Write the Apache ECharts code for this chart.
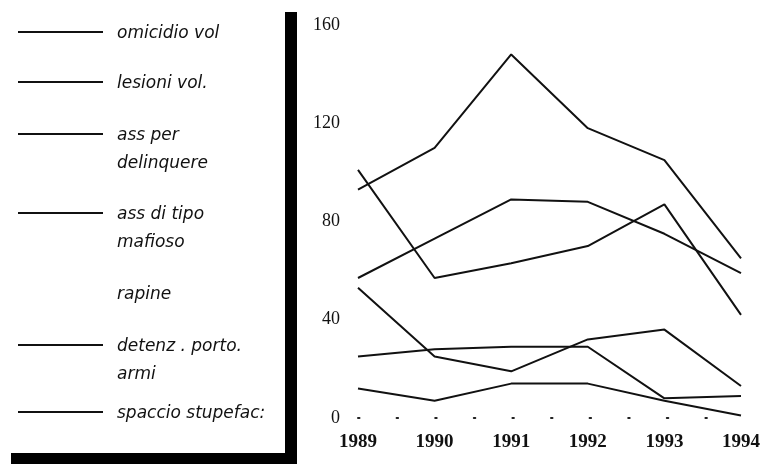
<!DOCTYPE html>
<html>
<head>
<meta charset="utf-8">
<script src="https://cdn.jsdelivr.net/npm/echarts@6/dist/echarts.min.js"></script>
<style>
  html, body { margin: 0; padding: 0; background: #fff; }
  #chart { width: 763px; height: 464px; }
</style>
</head>
<body>
<div id="chart"></div>
<script>
// Years on the horizontal axis
var years = ['1989', '1990', '1991', '1992', '1993', '1994'];

// Reported offences per year, one array per category
var omicidioVol = [12, 7, 14, 14, 7, 1];
var lesioniVol = [53, 25, 19, 32, 36, 13];
var assPerDelinquere = [25, 28, 29, 29, 8, 9];
var assTipoMafioso = [57, 73, 89, 88, 75, 59];
var detenzPortoArmi = [101, 57, 63, 70, 87, 42];
var spaccioStupefac = [93, 110, 148, 118, 105, 65];

// Vertical axis ticks
var yTicks = [0, 40, 80, 120, 160];

// Key entries: label text and whether a line sample is shown
var keyLabels = ['omicidio vol', 'lesioni vol.', 'ass per\ndelinquere', 'ass di tipo\nmafioso', 'rapine', 'detenz . porto.\narmi', 'spaccio stupefac:'];
var keyHasLine = [true, true, true, true, false, true, true];

var seriesData = [omicidioVol, lesioniVol, assPerDelinquere, assTipoMafioso, detenzPortoArmi, spaccioStupefac];
var seriesNames = ['omicidio vol', 'lesioni vol.', 'ass per delinquere', 'ass di tipo mafioso', 'detenz. porto armi', 'spaccio stupefac.'];

// Key layout (vertical centre of each entry's first text line)
var keyRowY = [32, 82, 134, 213, 293, 345, 412];
var keyLineHeight = 28;

var ink = '#111';

var graphic = [
  // heavy frame around the key
  { type: 'rect', shape: { x: 285, y: 12, width: 12, height: 452 }, style: { fill: '#000' } },
  { type: 'rect', shape: { x: 11, y: 453, width: 286, height: 11 }, style: { fill: '#000' } }
];
keyLabels.forEach(function (label, i) {
  if (keyHasLine[i]) {
    graphic.push({
      type: 'line',
      shape: { x1: 18, y1: keyRowY[i], x2: 103, y2: keyRowY[i] },
      style: { stroke: ink, lineWidth: 2 }
    });
  }
  graphic.push({
    type: 'text',
    x: 117,
    y: keyRowY[i] - 12,
    style: {
      text: label,
      fill: ink,
      font: 'italic 17px "DejaVu Sans", sans-serif',
      lineHeight: keyLineHeight,
      textVerticalAlign: 'top'
    }
  });
});

var chart = echarts.init(document.getElementById('chart'));
chart.setOption({
  animation: false,
  backgroundColor: '#fff',
  grid: { left: 358, right: 19, top: 25, bottom: 46 },
  xAxis: {
    type: 'category',
    data: years,
    boundaryGap: false,
    axisLine: { show: true, lineStyle: { color: '#222', width: 2, type: [1.5, 37.1] } },
    axisTick: { show: false },
    splitLine: { show: false },
    axisLabel: {
      margin: 15,
      color: '#111',
      fontFamily: '"Liberation Serif", serif',
      fontWeight: 'bold',
      fontSize: 19
    }
  },
  yAxis: {
    type: 'value',
    min: yTicks[0],
    max: yTicks[yTicks.length - 1],
    interval: yTicks[1] - yTicks[0],
    axisLine: { show: false },
    axisTick: { show: false },
    splitLine: { show: false },
    axisLabel: {
      margin: 18,
      color: '#111',
      fontFamily: '"Liberation Serif", serif',
      fontSize: 18
    }
  },
  graphic: graphic,
  series: seriesData.map(function (d, i) {
    return {
      name: seriesNames[i],
      type: 'line',
      data: d,
      symbol: 'none',
      lineStyle: { color: ink, width: 2 }
    };
  })
});
</script>
</body>
</html>
